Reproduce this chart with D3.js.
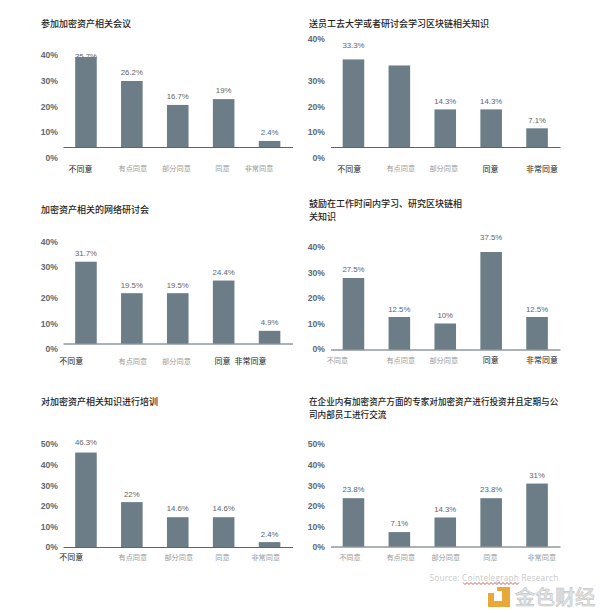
<!DOCTYPE html>
<html>
<head>
<meta charset="utf-8">
<script src="https://cdn.jsdelivr.net/npm/d3@7"></script>
<style>
  html, body { margin: 0; background: #fff; }
  svg { display: block; }
  text { font-family: "Noto Sans CJK SC", sans-serif; }
  .ytick text { font-family: "Liberation Sans", sans-serif; font-weight: bold; font-size: 8.6px; fill: #5b6a74; }
  .val { font-family: "Liberation Sans", sans-serif; font-size: 7.8px; fill: #5f6468; }
  .title { font-weight: 500; fill: #222; }
</style>
</head>
<body>
<div id="container"></div>
<script>
// answers, same for all six charts
const categories = ['不同意', '有点同意', '部分同意', '同意', '非常同意']

const titles = [
  ['参加加密资产相关会议'],
  ['送员工去大学或者研讨会学习区块链相关知识'],
  ['加密资产相关的网络研讨会'],
  ['鼓励在工作时间内学习、研究区块链相', '关知识'],
  ['对加密资产相关知识进行培训'],
  ['在企业内有加密资产方面的专家对加密资产进行投资并且定期与公', '司内部员工进行交流']
]

const values1 = [35.7, 26.2, 16.7, 19, 2.4]
const values2 = [33.3, 31, 14.3, 14.3, 7.1]
const values3 = [31.7, 19.5, 19.5, 24.4, 4.9]
const values4 = [27.5, 12.5, 10, 37.5, 12.5]
const values5 = [46.3, 22, 14.6, 14.6, 2.4]
const values6 = [23.8, 7.1, 14.3, 23.8, 31]
const allValues = [values1, values2, values3, values4, values5, values6]

// second bar of chart 2 has no printed label in the source
const hiddenLabels = { 1: [1] }

const ticks40 = [0, 10, 20, 30, 40]
const ticks50 = [0, 10, 20, 30, 40, 50]

// layout of each chart. the tick labels in the source don't line up with the bars
// so they get their own scale (tickY = pixel positions of the labels)
const left = { bandRange: [63, 292.5], tickX: 58, titleX: 41 }
const right = { bandRange: [330.5, 560], tickX: 325, titleX: 309 }
const layouts = [
  { col: left, base: 147, pxPerPct: 2.52, ticks: ticks40, tickY: [158, 132, 107, 81, 55], titleY: 24, titleSize: 9, catY: 169,
    catShift: [-5.5, 1, -1.3, -1.2, -10.5], dark: [1, 0, 0, 0, 0], lift: [1.5, 9, 9, 9, 9] },
  { col: right, base: 147, pxPerPct: 2.63, ticks: ticks40, tickY: [158, 132, 107, 81, 39], titleY: 24, titleSize: 9, catY: 169,
    catShift: [-4.3, 1.4, -1.5, -0.7, 5], dark: [1, 0, 0, 1, 1], lift: [14, 9, 8, 8, 8] },
  { col: left, base: 343.5, pxPerPct: 2.58, ticks: ticks40, tickY: [349, 324, 298, 267, 242], titleY: 210, titleSize: 9, catY: 361.5,
    catShift: [-14.7, 1, -1.3, -1.2, -19], dark: [1, 0, 0, 1, 1], lift: [9, 8.5, 8.5, 9, 8.5] },
  { col: right, base: 349.5, pxPerPct: 2.6, ticks: ticks40, tickY: [349, 324, 298, 272.5, 247], titleY: 204, titleSize: 9, catY: 360.5,
    catShift: [-16, 1.4, -1.5, -0.4, 5], dark: [0, 0, 0, 1, 1], lift: [9, 8.5, 8.5, 15, 8.5] },
  { col: left, base: 547, pxPerPct: 2.04, ticks: ticks50, tickY: [547, 526.5, 506, 485.5, 465, 444], titleY: 402, titleSize: 9, catY: 557.5,
    catShift: [-14.7, 1, 1, -1.2, -3.8], dark: [1, 0, 0, 0, 0], lift: [11, 8.5, 9, 9, 8] },
  { col: right, base: 546.5, pxPerPct: 2.03, ticks: ticks50, tickY: [547, 526.5, 506, 485.5, 465, 444], titleY: 402, titleSize: 8.6, catY: 557.5,
    catShift: [-3.5, 1.4, 0.5, -0.7, 4.7], dark: [0, 0, 0, 0, 0], lift: [9, 9, 8.5, 9, 9] }
]

const barColor = '#6c7d88'

const svg = d3.select('#container').append('svg')
  .attr('width', 600)
  .attr('height', 613)

allValues.forEach(function(values, i){
  const lay = layouts[i]
  const g = svg.append('g')

  const x = d3.scaleBand()
    .domain(categories)
    .range(lay.col.bandRange)
    .padding(0.53)
    .paddingOuter(0.265)

  const y = d3.scaleLinear()
    .domain([0, 1])
    .range([lay.base, lay.base - lay.pxPerPct])

  // title
  titles[i].forEach(function(line, n){
    g.append('text')
      .attr('class', 'title')
      .attr('x', lay.col.titleX)
      .attr('y', lay.titleY + n * 12.5 + 3.2)
      .style('font-size', lay.titleSize + 'px')
      .text(line)
  })

  // y tick labels
  const tickScale = d3.scaleLinear().domain(lay.ticks).range(lay.tickY)
  const yAxis = g.append('g')
    .attr('class', 'ytick')
    .attr('transform', `translate(${lay.col.tickX}, 0)`)
    .call(d3.axisLeft(tickScale).tickValues(lay.ticks).tickSize(0).tickPadding(0).tickFormat(d => d + '%'))
  yAxis.select('.domain').remove()

  // value labels go under the bars, the 35.7% one is cut off by its bar in the source
  g.selectAll('.val')
    .data(values)
    .enter()
    .append('text')
    .attr('class', 'val')
    .attr('x', (d, k) => x(categories[k]) + x.bandwidth() / 2)
    .attr('y', (d, k) => y(d) - lay.lift[k] + 3)
    .attr('text-anchor', 'middle')
    .text((d, k) => (hiddenLabels[i] || []).includes(k) ? '' : d + '%')

  // bars
  g.selectAll('.bar')
    .data(values)
    .enter()
    .append('rect')
    .attr('class', 'bar')
    .attr('x', (d, k) => x(categories[k]))
    .attr('y', d => y(d))
    .attr('width', x.bandwidth())
    .attr('height', d => lay.base - y(d))
    .attr('fill', barColor)

  // category axis, its domain line is the baseline
  const xAxis = g.append('g')
    .attr('transform', `translate(0, ${lay.base})`)
    .call(d3.axisBottom(x).tickSize(0).tickPadding(lay.catY - lay.base - 3))
  xAxis.select('.domain').attr('stroke', '#47545c').attr('stroke-width', 0.9)
  xAxis.selectAll('text')
    .attr('dx', (d, k) => lay.catShift[k])
    .style('font-size', (d, k) => lay.dark[k] ? '8px' : '7.2px')
    .style('font-family', '"Noto Sans CJK SC", sans-serif')
    .attr('fill', (d, k) => lay.dark[k] ? '#222' : '#9a9a9a')
})

// source line
svg.append('text')
  .attr('x', 429.5)
  .attr('y', 581)
  .attr('fill', '#c8c8c8')
  .style('font-family', '"Open Sans", sans-serif')
  .style('font-size', '8.2px')
  .style('letter-spacing', '0.25px')
  .text('Source: Cointelegraph Research')

// red spell check squiggle under Cointelegraph
const squiggle = d3.range(463, 520, 2).map((px, n) => [px, n % 2 ? 584.5 : 582.5])
svg.append('path')
  .attr('d', d3.line()(squiggle))
  .attr('fill', 'none')
  .attr('stroke', '#c0392b')
  .attr('stroke-width', 0.8)

// watermark logo
svg.append('path')
  .attr('d', 'M502 587h8v20h-22v-14h6v8h8z')
  .attr('fill', '#e9a93a')
svg.append('rect')
  .attr('x', 497).attr('y', 587).attr('width', 5).attr('height', 4).attr('fill', '#e9a93a')
svg.append('text')
  .attr('x', 515)
  .attr('y', 605)
  .attr('fill', '#e4e4e4')
  .attr('stroke', '#bdbdbd')
  .attr('stroke-width', 0.5)
  .style('font-size', '20px')
  .style('font-weight', '500')
  .text('金色财经')
</script>
</body>
</html>
